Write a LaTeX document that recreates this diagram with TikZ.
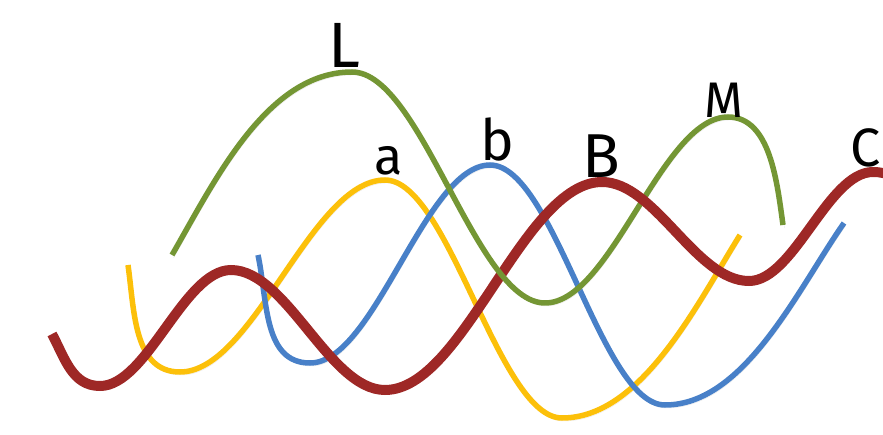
\documentclass[tikz,border=0pt]{standalone}
\usepackage{fontspec}
\setmainfont{Fira Sans}
\usepackage{xcolor}
\definecolor{wavegreen}{RGB}{116,150,52}
\definecolor{waveyellow}{RGB}{252,192,10}
\definecolor{waveblue}{RGB}{72,128,200}
\definecolor{wavered}{RGB}{158,40,38}

\begin{document}
\begin{tikzpicture}[
    x=1pt, y=1pt,
    wave/.style={preaction={draw=black!30, opacity=0.3, transform canvas={shift={(1.5pt,-3pt)}}}},
    greenwave/.style={wave, draw=wavegreen, line width=5.5pt},
    yellowwave/.style={wave, draw=waveyellow, line width=5.5pt},
    bluewave/.style={wave, draw=waveblue, line width=5.5pt},
    redwave/.style={wave, draw=wavered, line width=10pt},
    peaklabel/.style={inner sep=0pt, text=black, font=\fontsize{#1}{#1}\selectfont}
]
\useasboundingbox (0,0) rectangle (883,434);
\clip (0,0) rectangle (883,434);

% yellow wave
\draw [yellowwave] (128,169) to[out=-82,in=180] (180,62)
    to[out=0,in=180,looseness=0.67] (385,254)
    to[out=0,in=180,looseness=0.55] (562,16)
    to[out=0,in=238,looseness=0.8] (740,199);
% blue wave
\draw [bluewave] (258,179) to[out=-78,in=180] (310,71)
    to[out=0,in=180,looseness=0.62] (490,269)
    to[out=0,in=180,looseness=0.55] (665,29)
    to[out=0,in=235,looseness=0.8] (844,211);
% green wave, right half (under the red one)
\draw [greenwave] (545,131) to[out=0,in=180,looseness=0.65] (728,317)
    to[out=0,in=98,looseness=0.9] (783,209);
% red wave
\draw [redwave] (52,100) to[out=-62,in=180] (100,48)
    to[out=0,in=180,looseness=0.69] (231,164)
    to[out=0,in=180,looseness=0.73] (385,44)
    to[out=0,in=180,looseness=0.67] (602,252)
    to[out=0,in=180,looseness=0.77] (749,153)
    to[out=0,in=180,looseness=0.7] (873,262)
    to[out=0,in=150] (940,220);
% green wave, left half (over the others)
\draw [greenwave] (172,179) to[out=60,in=180,looseness=0.85] (352,362)
    to[out=0,in=180,looseness=0.59] (545,131);

% peak labels
\node (lblL) [peaklabel=64] at (344,389) {L};
\node (lbla) [peaklabel=52] at (389,273) {a};
\node (lblb) [peaklabel=57] at (497,295) {b};
\node (lblB) [peaklabel=62] at (601,278) {B};
\node (lblM) [peaklabel=50] at (724,334) {M};
\node (lblC) [peaklabel=54] at (866,286) {C};
\end{tikzpicture}
\end{document}
